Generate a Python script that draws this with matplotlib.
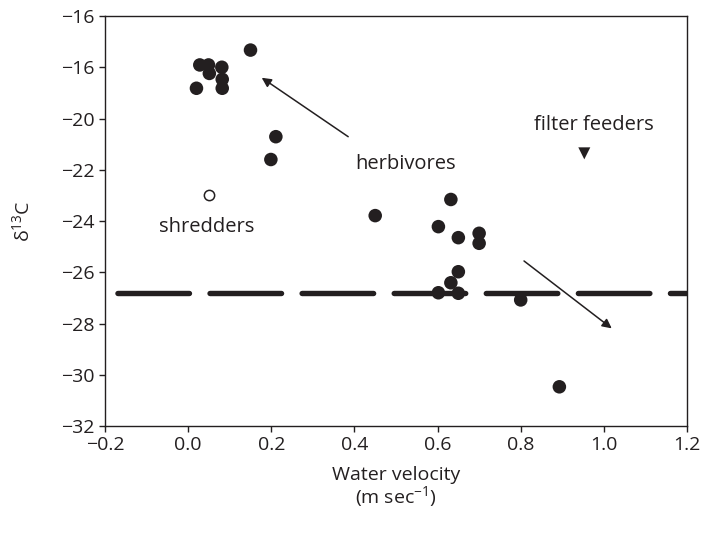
import matplotlib
matplotlib.use("Agg")
import matplotlib.pyplot as plt

plt.rcParams['font.family'] = ['Open Sans', 'DejaVu Sans']
plt.rcParams['mathtext.fontset'] = 'custom'
plt.rcParams['mathtext.rm'] = 'Open Sans'
plt.rcParams['mathtext.it'] = 'Open Sans:italic'

INK = '#231f20'

# herbivores (filled circles)
herb_x = [0.150, 0.028, 0.049, 0.081, 0.051, 0.082, 0.020, 0.082, 0.211, 0.199,
          0.450, 0.632, 0.602, 0.650, 0.700, 0.700, 0.650, 0.632, 0.602, 0.650,
          0.800, 0.893]
herb_y = [-17.33, -17.91, -17.91, -18.00, -18.24, -18.47, -18.82, -18.82, -20.71, -21.60,
          -23.79, -23.16, -24.22, -24.65, -24.48, -24.87, -25.98, -26.41, -26.80, -26.82,
          -27.08, -30.47]
# shredders (open circle)
shred_x = [0.050]
shred_y = [-22.99]
# filter feeders (triangle)
filt_x = [0.953]
filt_y = [-21.36]
# dashed reference level
ref_level = -26.80

xticks = [-0.2, 0.0, 0.2, 0.4, 0.6, 0.8, 1.0, 1.2]
xticklabels = ['\u22120.2', '0.0', '0.2', '0.4', '0.6', '0.8', '1.0', '1.2']
yticks = [-16, -18, -20, -22, -24, -26, -28, -30, -32]
yticklabels = ['\u221216', '\u221216', '\u221220', '\u221222', '\u221224',
               '\u221226', '\u221228', '\u221230', '\u221232']

fig = plt.figure(figsize=(7.01, 5.37), dpi=100)
ax = fig.add_axes([0.1498, 0.2067, 0.8302, 0.7635])

ax.set_xlim(-0.2, 1.2)
ax.set_ylim(-32, -16)

ax.plot([-0.2, 1.2], [ref_level, ref_level], color=INK, lw=3.9,
        linestyle=(-2.3, (13.2, 3.8)), dash_capstyle='round',
        zorder=2, clip_on=True)

ax.scatter(herb_x, herb_y, s=95, color=INK, edgecolors='none', zorder=3)
ax.scatter(shred_x, shred_y, s=55, facecolors='white', edgecolors=INK, linewidths=1.1, zorder=3)
ax.scatter(filt_x, filt_y, s=75, marker='v', color=INK, edgecolors='none', zorder=3)

arrow_kw = dict(arrowstyle='-|>', color=INK, lw=1.1, mutation_scale=14,
                shrinkA=0, shrinkB=0)
ax.annotate('', xy=(0.177, -18.41), xytext=(0.385, -20.71), arrowprops=arrow_kw)
ax.annotate('', xy=(1.019, -28.19), xytext=(0.808, -25.56), arrowprops=arrow_kw)

fs = 14.5
ax.text(0.522, -21.78, 'herbivores', ha='center', va='center', fontsize=fs, color=INK)
ax.text(0.975, -20.25, 'filter feeders', ha='center', va='center', fontsize=fs, color=INK)
ax.text(0.045, -24.25, 'shredders', ha='center', va='center', fontsize=fs, color=INK)

ax.set_xticks(xticks)
ax.set_xticklabels(xticklabels)
ax.set_yticks(yticks)
ax.set_yticklabels(yticklabels)
ax.tick_params(direction='out', length=4.5, width=1.0, color=INK, labelcolor=INK,
               labelsize=14, pad=3)
for sp in ax.spines.values():
    sp.set_color(INK)
    sp.set_linewidth(1.0)

ax.set_xlabel('Water velocity\n(m sec$^{\u22121}$)', fontsize=14, color=INK, labelpad=8,
              linespacing=1.05)
ax.set_ylabel('\u03b4$^{13}$C', fontsize=14, color=INK, labelpad=20)

fig.savefig('out.png', dpi=100)
